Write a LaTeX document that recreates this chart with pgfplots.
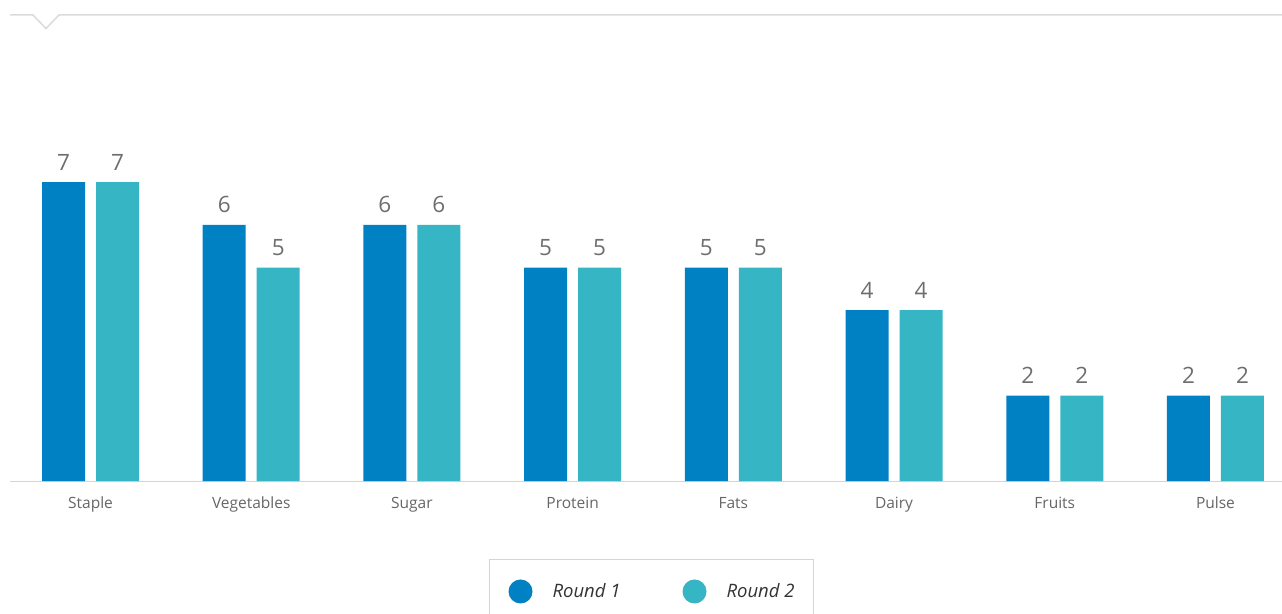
\documentclass[border=0pt]{standalone}
\usepackage{pgfplots}
\pgfplotsset{compat=1.18}
\usepackage{fontspec}
\setmainfont{Open Sans}
\definecolor{roundone}{HTML}{0081C3}
\definecolor{roundtwo}{HTML}{36B5C4}
\definecolor{labelgray}{HTML}{666666}
\definecolor{valgray}{HTML}{6E6E6E}
\definecolor{rulegray}{HTML}{D4D4D4}
\definecolor{legendtext}{HTML}{333333}

\begin{document}
\begin{tikzpicture}
\useasboundingbox (0,0) rectangle (1282pt,613pt);
\clip (0,0) rectangle (1282pt,613pt);
% header rule with a small notch
\draw[rulegray!85, line width=1.5pt, line join=miter]
  (10pt,598pt) -- (33pt,598pt) -- (46pt,584.5pt) -- (59pt,598pt) -- (1282pt,598pt);
\begin{axis}[
  at={(10pt,132pt)}, anchor=south west,
  scale only axis, width=1272pt, height=341.6pt,
  xmin=-0.501, xmax=7.414, ymin=0, ymax=8,
  /pgf/number format/assume math mode=true,
  axis y line=none, axis x line*=bottom,
  x axis line style={draw=rulegray, line width=1pt, -},
  xtick={0,...,7},
  xticklabels={Staple,Vegetables,Sugar,Protein,Fats,Dairy,Fruits,Pulse},
  major tick length=0pt,
  xticklabel style={font=\fontsize{15.5}{18}\selectfont, text=labelgray,
    anchor=base, inner sep=0pt, yshift=-27pt},
  ybar, bar width=43pt,
  nodes near coords,
  every node near coord/.append style={font=\fontsize{22.5}{26}\selectfont,
    text=valgray, anchor=base, inner sep=0pt, yshift=12pt},
  legend columns=2,
  legend image code/.code={\fill[#1] (12pt,0pt) circle (12pt);},
  legend style={at={(0.3766,-0.2283)}, anchor=north west,
    draw=rulegray, line width=1pt,
    font=\itshape\fontsize{18.5}{22}\selectfont, text=legendtext,
    inner xsep=19pt, inner ysep=20pt,
    nodes={inner sep=0pt},
    /tikz/every odd column/.append style={column sep=20pt},
    /tikz/every even column/.append style={column sep=62pt}},
]
\addplot[fill=roundone, draw=none, bar shift=-27pt]
  coordinates {(0,7) (1,6) (2,6) (3,5) (4,5) (5,4) (6,2) (7,2)};
\addplot[fill=roundtwo, draw=none, bar shift=27pt]
  coordinates {(0,7) (1,5) (2,6) (3,5) (4,5) (5,4) (6,2) (7,2)};
\legend{Round 1, Round 2}
\end{axis}
\end{tikzpicture}
\end{document}
